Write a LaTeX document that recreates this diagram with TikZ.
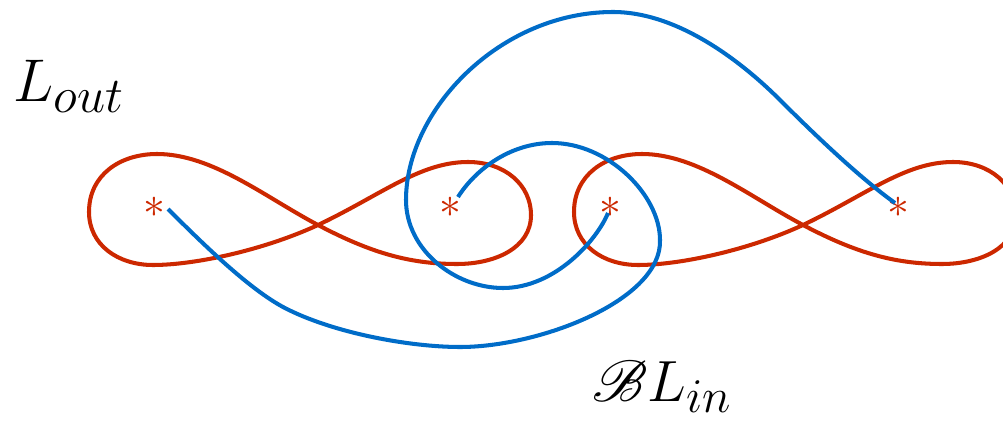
\documentclass[tikz,border=0pt]{standalone}
\usepackage{mathrsfs}
\definecolor{redc}{RGB}{204,40,0}
\definecolor{bluec}{RGB}{0,108,200}
\tikzset{
  redcurve/.style={draw=redc, line width=2.3pt},
  bluecurve/.style={draw=bluec, line width=2.3pt},
  starmark/.style={text=redc, inner sep=0pt, font=\fontsize{30}{30}\selectfont},
  biglabel/.style={inner sep=0pt, font=\Huge}
}
\begin{document}
\begin{tikzpicture}[x=0.02cm, y=-0.02cm]
\useasboundingbox (0,0) rectangle (1003,422);
% red figure eights
\foreach \dx in {0,485} {
\begin{scope}[shift={(\dx,0)}]
\draw[redcurve] (318,225)
  .. controls (265,197) and (212,154) .. (157,154)
  .. controls (120,154) and (89,175) .. (89,212)
  .. controls (89,245) and (118,265) .. (153,265)
  .. controls (195,265) and (264,250) .. (318,225)
  .. controls (381,195) and (420,162) .. (468,162)
  .. controls (505,162) and (531,185) .. (531,215)
  .. controls (531,248) and (495,264) .. (457,264)
  .. controls (410,264) and (371,253) .. (318,225) -- cycle;
\end{scope}
}
% stars
\node[starmark] (s1) at (154,207) {$\ast$};
\node[starmark] (s2) at (450,207) {$\ast$};
\node[starmark] (s3) at (610,207) {$\ast$};
\node[starmark] (s4) at (898,207) {$\ast$};
% blue curves
\coordinate (b1s) at (168,209);
\coordinate (b1e) at (458,197);
\coordinate (b2s) at (608,213);
\coordinate (b2e) at (895,203);
\draw[bluecurve] (b1s)
  .. controls (203,244) and (248,288) .. (283,307)
  .. controls (332,333) and (410,347) .. (460,347)
  .. controls (540,347) and (662,300) .. (660,240)
  .. controls (660,195) and (608,143) .. (552,143)
  .. controls (510,143) and (475,170) .. (b1e);
\draw[bluecurve] (b2s)
  .. controls (597,240) and (555,288) .. (503,288)
  .. controls (455,288) and (406,250) .. (406,200)
  .. controls (406,110) and (500,12) .. (613,12)
  .. controls (680,12) and (745,65) .. (780,100)
  .. controls (815,135) and (860,178) .. (b2e);
% labels
\node[biglabel, anchor=base west] (lout) at (13,102) {\scalebox{1.38}{$L_{out}$}};
\node[biglabel, anchor=base west] (lin) at (592,401) {\scalebox{1.33}{$\mathscr{B}L_{in}$}};
\end{tikzpicture}
\end{document}
